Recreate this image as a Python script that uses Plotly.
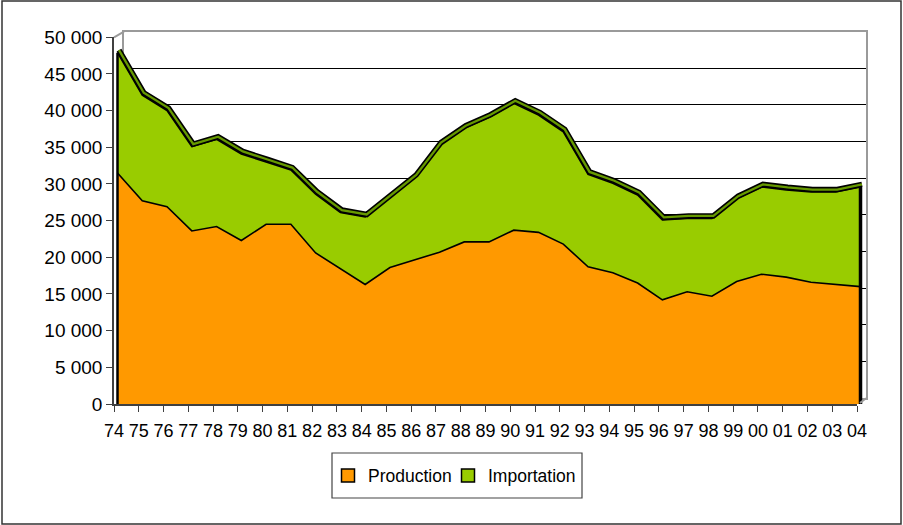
import plotly.graph_objects as go

# ---------------- data ----------------
years = ["74", "75", "76", "77", "78", "79", "80", "81", "82", "83", "84", "85",
         "86", "87", "88", "89", "90", "91", "92", "93", "94", "95", "96", "97",
         "98", "99", "00", "01", "02", "03", "04"]
production = [31500, 27700, 26900, 23600, 24200, 22300, 24500, 24500, 20600, 18400,
              16300, 18600, 19600, 20700, 22100, 22100, 23700, 23400, 21800, 18700,
              17900, 16500, 14200, 15300, 14700, 16700, 17700, 17300, 16600, 16300, 16000]
importation = [16400, 14400, 13100, 11500, 11900, 11800, 8500, 7400, 8000, 7700,
               9200, 9600, 11300, 14600, 15500, 17000, 17300, 16000, 15300, 12600,
               12200, 12000, 10900, 10000, 10600, 11300, 11900, 11900, 12300, 12600, 13600]
ytick_values = [0, 5000, 10000, 15000, 20000, 25000, 30000, 35000, 40000, 45000, 50000]
ytick_labels = ["0", "5 000", "10 000", "15 000", "20 000", "25 000", "30 000",
                "35 000", "40 000", "45 000", "50 000"]
series_names = ["Production", "Importation"]

# ---------------- geometry (pixels) ----------------
W, H = 903, 525
def px(x): return x / W
def py(y): return 1 - y / H

FX0, FX1, FY0, FY1 = 114, 857, 37.3, 404      # front axes box
BX0, BX1, BY0, BY1 = 124, 866, 31.6, 398.3    # back wall box
DX0, DX1, DY0, DY1 = 100, 885, 15, 420        # generous data panels
span = len(years) - 1
YMAX = 50000
unit = (FX1 - FX0) / span
yunit = (FY1 - FY0) / YMAX

def xr(x0):
    return [(DX0 - x0) / unit, (DX1 - x0) / unit]

def yr(y0):
    return [(y0 - DY1) / yunit, (y0 - DY0) / yunit]

total = [p + i for p, i in zip(production, importation)]

ORANGE = "#FF9900"
GREEN = "#99CC00"
BAND = "#669900"
FONT = "Liberation Sans, Arial, sans-serif"

fig = go.Figure()

# back wall placeholder trace (makes the xy subplot exist)
fig.add_trace(go.Scatter(x=[None], y=[None], mode="lines", xaxis="x", yaxis="y",
                         showlegend=False, hoverinfo="skip"))

# stacked areas (front face)
fig.add_trace(go.Scatter(x=years, y=production, stackgroup="s", mode="lines",
                         line=dict(color="black", width=1.6), fillcolor=ORANGE,
                         xaxis="x3", yaxis="y3", showlegend=False, hoverinfo="skip"))
fig.add_trace(go.Scatter(x=years, y=importation, stackgroup="s", mode="lines",
                         line=dict(color="black", width=1.6), fillcolor=GREEN,
                         xaxis="x3", yaxis="y3", showlegend=False, hoverinfo="skip"))
# side edges of the area
fig.add_trace(go.Scatter(x=[years[0], years[0]], y=[0, total[0]], mode="lines",
                         line=dict(color="black", width=2.5),
                         xaxis="x3", yaxis="y3", showlegend=False, hoverinfo="skip"))
fig.add_trace(go.Scatter(x=[years[-1], years[-1]], y=[0, total[-1]], mode="lines",
                         line=dict(color="black", width=3.5),
                         xaxis="x3", yaxis="y3", showlegend=False, hoverinfo="skip"))
# 3D top band
fig.add_trace(go.Scatter(x=years, y=total, mode="lines",
                         line=dict(color="black", width=5.5),
                         xaxis="x4", yaxis="y4", showlegend=False, hoverinfo="skip"))
fig.add_trace(go.Scatter(x=years, y=total, mode="lines",
                         line=dict(color=BAND, width=2.3),
                         xaxis="x4", yaxis="y4", showlegend=False, hoverinfo="skip"))

# legend entries
fig.add_trace(go.Scatter(x=[None], y=[None], mode="markers", name=series_names[0],
                         marker=dict(symbol="square", size=13, color=ORANGE,
                                     line=dict(color="black", width=1.5)),
                         xaxis="x5", yaxis="y5", legend="legend"))
fig.add_trace(go.Scatter(x=[None], y=[None], mode="markers", name=series_names[1],
                         marker=dict(symbol="square", size=13, color=GREEN,
                                     line=dict(color="black", width=1.5)),
                         xaxis="x5", yaxis="y5", legend="legend2"))

hidden = dict(visible=False, fixedrange=True, automargin=False)

fig.update_layout(
    template="none",
    width=W, height=H,
    margin=dict(l=0, r=0, t=0, b=0, pad=0, autoexpand=False),
    paper_bgcolor="white",
    plot_bgcolor="rgba(0,0,0,0)",
    font=dict(family=FONT, color="black", size=17),
    # back wall
    xaxis=dict(domain=[px(BX0), px(BX1)], range=[0, 1], anchor="y",
               showline=True, mirror=True, linecolor="#9a9a9a", linewidth=2,
               showgrid=False, showticklabels=False, ticks="", zeroline=False,
               fixedrange=True, automargin=False),
    yaxis=dict(domain=[py(BY1), py(BY0)], range=[0, YMAX], anchor="x",
               showline=True, mirror=True, linecolor="#9a9a9a", linewidth=2,
               showgrid=True, gridcolor="black", gridwidth=1, tickvals=ytick_values,
               showticklabels=False, ticks="", zeroline=False, fixedrange=True,
               automargin=False),
    # data panels
    xaxis3=dict(domain=[px(DX0), px(DX1)], anchor="y3", type="category",
                categoryorder="array", categoryarray=years, range=xr(117.5), **hidden),
    yaxis3=dict(domain=[py(DY1), py(DY0)], anchor="x3", range=yr(404), **hidden),
    xaxis4=dict(domain=[px(DX0), px(DX1)], anchor="y4", type="category",
                categoryorder="array", categoryarray=years, range=xr(119.0), **hidden),
    yaxis4=dict(domain=[py(DY1), py(DY0)], anchor="x4", range=yr(401.5), **hidden),
    # front axes (drawn last)
    xaxis5=dict(domain=[px(FX0), px(FX1)], anchor="y5", type="category",
                categoryorder="array", categoryarray=years, range=[0, span],
                showline=True, linecolor="#404040", linewidth=1.5,
                ticks="outside", ticklen=6, tickwidth=1.2, tickcolor="#404040",
                tickfont=dict(size=18), ticklabelstandoff=4,
                showgrid=False, zeroline=False,
                fixedrange=True, automargin=False),
    yaxis5=dict(domain=[py(FY1), py(FY0)], anchor="x5", range=[0, YMAX],
                tickvals=ytick_values, ticktext=ytick_labels,
                showline=True, linecolor="#404040", linewidth=1.5,
                ticks="outside", ticklen=6, tickwidth=1.2, tickcolor="#404040",
                tickfont=dict(size=19), showgrid=False, zeroline=False,
                fixedrange=True, automargin=False),
    legend=dict(x=px(328), xanchor="left", y=py(475.5), yanchor="middle",
                bgcolor="rgba(0,0,0,0)", borderwidth=0, font=dict(size=17.5)),
    legend2=dict(x=px(448), xanchor="left", y=py(475.5), yanchor="middle",
                 bgcolor="rgba(0,0,0,0)", borderwidth=0, font=dict(size=17.5)),
    shapes=[
        dict(type="rect", xref="paper", yref="paper", x0=px(2), x1=px(901),
             y0=py(524), y1=py(1), line=dict(color="#333333", width=1.5)),
        dict(type="rect", xref="paper", yref="paper", x0=px(332), x1=px(582),
             y0=py(498), y1=py(453), line=dict(color="#444444", width=1.2)),
        dict(type="line", xref="paper", yref="paper", x0=px(FX0), y0=py(FY0),
             x1=px(BX0), y1=py(BY0), line=dict(color="#9a9a9a", width=2)),
        dict(type="line", xref="paper", yref="paper", x0=px(FX1 + 3), y0=py(FY1 - 1),
             x1=px(BX1), y1=py(BY1), line=dict(color="#9a9a9a", width=2)),
    ],
)

fig.write_html("out.html", config={"displayModeBar": False},
               post_script="document.body.style.margin='0';"
                           "document.documentElement.style.overflow='hidden';")
